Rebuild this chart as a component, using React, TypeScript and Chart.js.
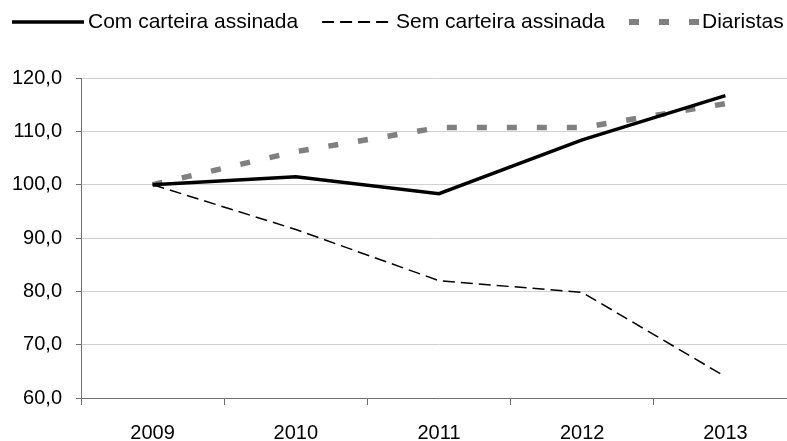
import React, { useEffect, useRef } from "react";
import { Chart, registerables } from "chart.js";

Chart.register(...registerables);

const years = ["2009", "2010", "2011", "2012", "2013"];
const comCarteira = [100, 101.5, 98.3, 108.4, 116.7];
const semCarteira = [100, 91.6, 82.0, 79.8, 64.0];
const diaristas = [100, 106.2, 110.7, 110.7, 115.2];
const seriesNames = ["Com carteira assinada", "Sem carteira assinada", "Diaristas"];
const yTicks = [60, 70, 80, 90, 100, 110, 120];

const FONT = "'Liberation Sans', Arial, sans-serif";

const legendPlugin = {
  id: "topLegend",
  afterDraw(chart: any) {
    const ctx = chart.ctx;
    ctx.save();
    ctx.font = `21px ${FONT}`;
    ctx.textBaseline = "middle";
    ctx.textAlign = "left";
    let x = 12;
    const y = 22;
    chart.data.datasets.forEach((ds: any) => {
      ctx.save();
      ctx.strokeStyle = ds.borderColor;
      ctx.lineWidth = ds.legendWidth || ds.borderWidth;
      ctx.setLineDash(ds.borderDash || []);
      ctx.beginPath();
      ctx.moveTo(x, y);
      ctx.lineTo(x + ds.legendLen, y);
      ctx.stroke();
      ctx.restore();
      x += ds.legendLen + ds.legendGap;
      ctx.fillStyle = "#000";
      ctx.fillText(ds.label, x, y);
      x += ctx.measureText(ds.label).width + 24;
    });
    ctx.restore();
  },
};

export default function App() {
  const ref = useRef<HTMLCanvasElement | null>(null);
  useEffect(() => {
    if (!ref.current) return;
    const chart = new Chart(ref.current, {
      type: "line",
      data: {
        labels: years,
        datasets: [
          {
            label: seriesNames[0],
            data: comCarteira,
            borderColor: "#000000",
            borderWidth: 3.5,
            legendLen: 72,
            legendGap: 4,
            pointRadius: 0,
            tension: 0,
          },
          {
            label: seriesNames[1],
            data: semCarteira,
            borderColor: "#000000",
            borderWidth: 1.5,
            legendWidth: 2,
            legendLen: 66,
            legendGap: 8,
            borderDash: [12, 6],
            pointRadius: 0,
            tension: 0,
          },
          {
            label: seriesNames[2],
            data: diaristas,
            borderColor: "#808080",
            borderWidth: 5.5,
            legendWidth: 6,
            legendLen: 70,
            legendGap: 3,
            borderDash: [10, 20],
            pointRadius: 0,
            tension: 0,
          },
        ] as any,
      },
      options: {
        animation: false,
        responsive: false,
        maintainAspectRatio: false,
        layout: { padding: { top: 78, left: 0, right: 0, bottom: 0 } },
        plugins: { legend: { display: false }, tooltip: { enabled: false } },
        scales: {
          x: {
            offset: true,
            afterFit: (s: any) => {
              s.height = 43;
            },
            grid: {
              offset: true,
              drawOnChartArea: false,
              drawTicks: true,
              tickLength: 7,
              tickColor: "#707070",
            },
            border: { color: "#707070", width: 1 },
            ticks: {
              font: { family: FONT, size: 20 },
              color: "#000",
              padding: 16,
              maxRotation: 0,
            },
          },
          y: {
            min: 60,
            max: 120,
            afterBuildTicks: (s: any) => {
              s.ticks = yTicks.map((v) => ({ value: v }));
            },
            afterFit: (s: any) => {
              s.width = 81;
            },
            grid: {
              color: "#d0d0d0",
              tickColor: "#707070",
              tickLength: 5,
            },
            border: { color: "#707070", width: 1 },
            ticks: {
              font: { family: FONT, size: 20 },
              color: "#000",
              padding: 14,
              callback: (v: any) => Number(v).toFixed(1).replace(".", ","),
            },
          },
        },
      },
      plugins: [legendPlugin],
    });
    return () => chart.destroy();
  }, []);

  return (
    <div
      style={{
        position: "fixed",
        left: 0,
        top: 0,
        width: 787,
        height: 441,
        overflow: "hidden",
        background: "#fff",
      }}
    >
      <canvas ref={ref} width={797} height={441} style={{ display: "block", width: 797, height: 441 }} />
    </div>
  );
}
